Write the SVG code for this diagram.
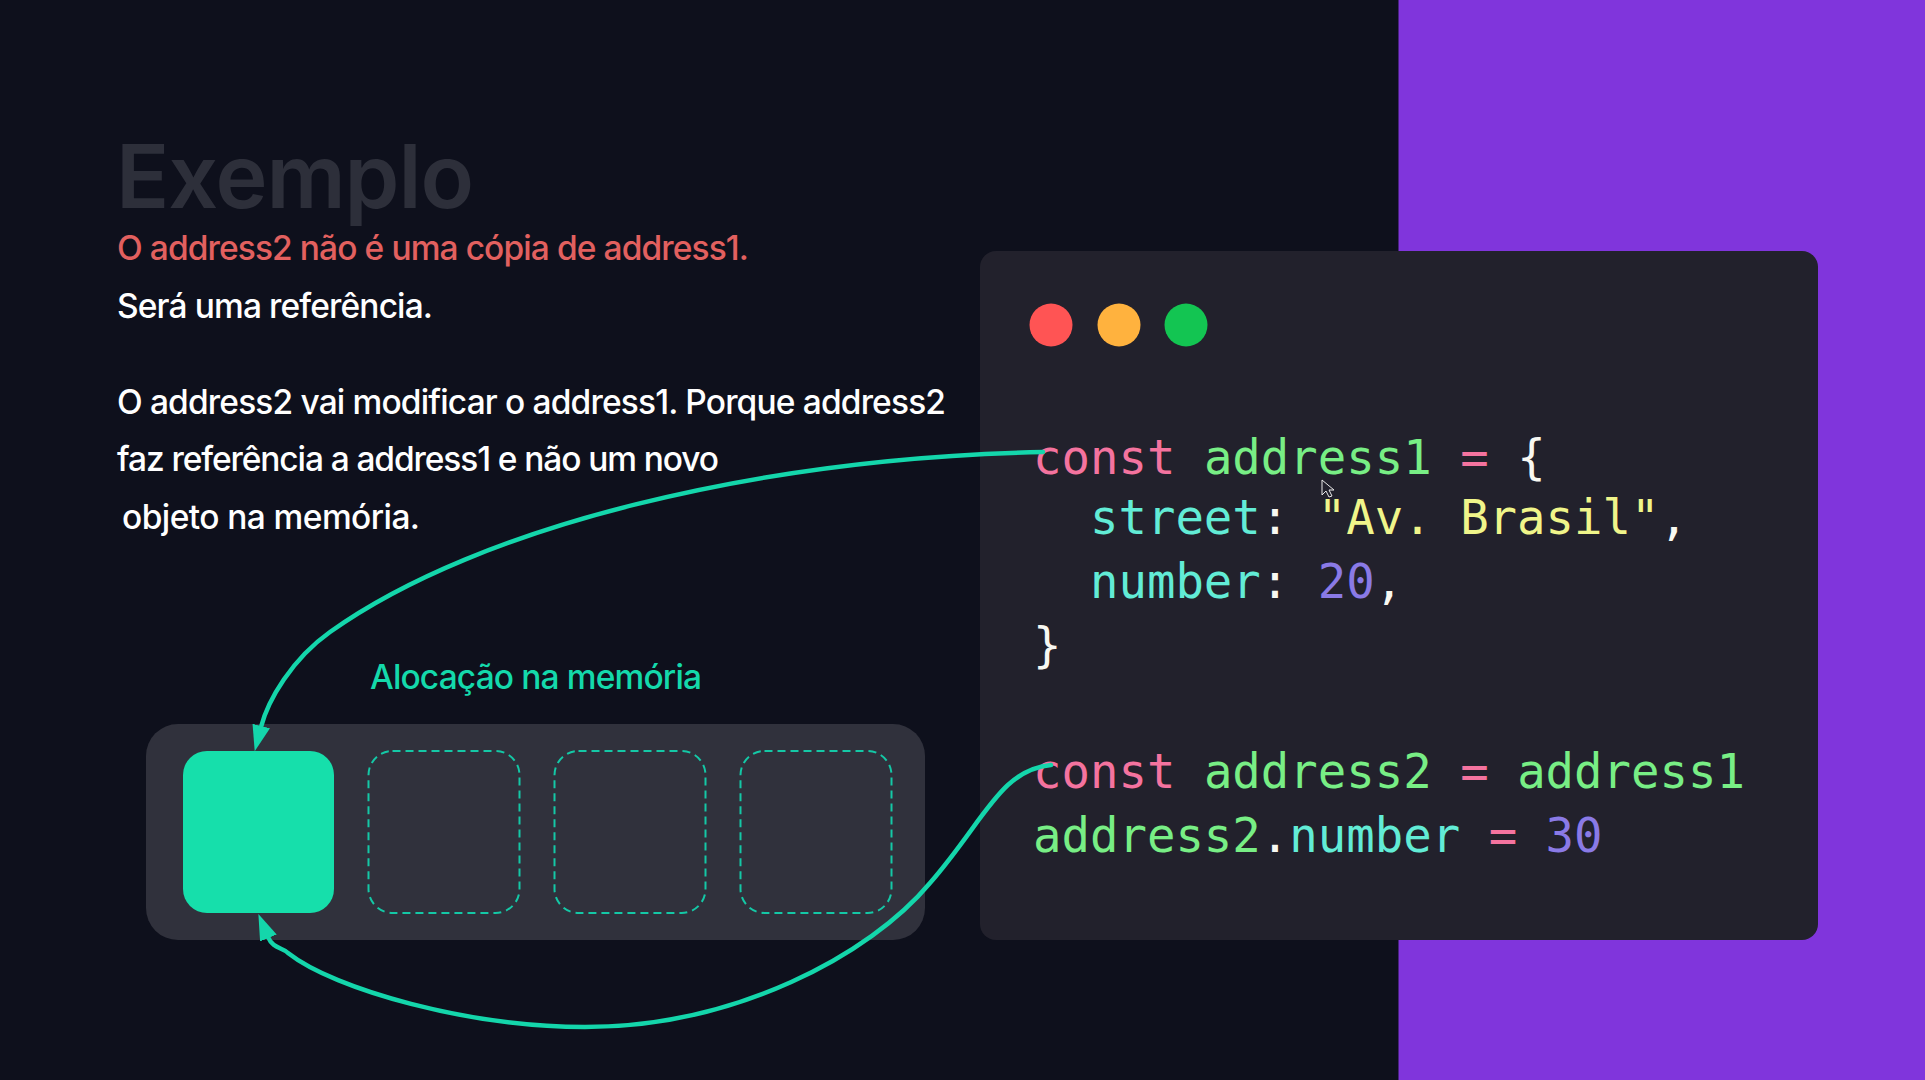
<svg xmlns="http://www.w3.org/2000/svg" width="1925" height="1080" viewBox="0 0 1925 1080">
<style>
.s{font-family:"Inter","Liberation Sans",sans-serif;font-size:33.500px;font-weight:500;fill:#fff}
.c{font-family:"DejaVu Sans Mono","Liberation Mono",monospace;font-size:47.300px;fill:#f8f8f2;white-space:pre}
.k{fill:#f4739f}.g{fill:#78ee85}.t{fill:#62ecd6}.y{fill:#f0f58a}.n{fill:#8a7ae6}
.d{fill:none;stroke:#14c8a6;stroke-width:2;stroke-dasharray:8 5}
.a{fill:none;stroke:#14d6ab;stroke-width:4.500;stroke-linecap:round;marker-end:url(#h)}
</style>
<defs><marker id="h" markerUnits="userSpaceOnUse" markerWidth="28" markerHeight="20" refX="1" refY="10" orient="auto"><path d="M0 1L26 10L0 19z" fill="#14d6ab"/></marker></defs>
<rect width="1925" height="1080" fill="#0e101c"/>
<rect x="1398.500" width="527" height="1080" fill="#8035dc"/>
<g id="title"><text x="116" y="208" font-family="Inter,'Liberation Sans',sans-serif" font-size="88" font-weight="600" fill="#2d2f3a" textLength="358">Exemplo</text></g>
<g id="intro">
<text class="s" x="117" y="260" style="fill:#e2605f" textLength="632">O address2 não é uma cópia de address1.</text>
<text class="s" x="117" y="318" textLength="316">Será uma referência.</text>
<text class="s" x="117" y="414" textLength="829">O address2 vai modificar o address1. Porque address2</text>
<text class="s" x="117" y="471" textLength="602">faz referência a address1 e não um novo</text>
<text class="s" x="122" y="529" textLength="298">objeto na memória.</text>
</g>
<g id="memory">
<rect x="146" y="724" width="779" height="216" rx="32" fill="#30313c"/>
<text class="s" x="370" y="689" style="fill:#14d9ab" textLength="332">Alocação na memória</text>
<rect id="slot1" x="183" y="751" width="151" height="162" rx="24" fill="#16dfab"/>
<rect id="slot2" class="d" x="368.500" y="751" width="151" height="162" rx="24"/>
<rect id="slot3" class="d" x="554.500" y="751" width="151" height="162" rx="24"/>
<rect id="slot4" class="d" x="740.500" y="751" width="151" height="162" rx="24"/>
</g>
<g id="code">
<rect x="980" y="251" width="838" height="689" rx="16" fill="#22212c"/>
<circle cx="1051" cy="325" r="21.500" fill="#ff5454"/>
<circle cx="1119" cy="325" r="21.500" fill="#ffb23e"/>
<circle cx="1186" cy="325" r="21.500" fill="#13c552"/>
<text class="c" x="1033" y="474"><tspan class="k">const</tspan> <tspan class="g">address1</tspan> <tspan class="k">=</tspan> {</text>
<text class="c" x="1033" y="534">  <tspan class="t">street</tspan>: <tspan class="y">"Av. Brasil"</tspan>,</text>
<text class="c" x="1033" y="598">  <tspan class="t">number</tspan>: <tspan class="n">20</tspan>,</text>
<text class="c" x="1033" y="662">}</text>
<text class="c" x="1033" y="788"><tspan class="k">const</tspan> <tspan class="g">address2</tspan> <tspan class="k">=</tspan> <tspan class="g">address1</tspan></text>
<text class="c" x="1033" y="852"><tspan class="g">address2</tspan>.<tspan class="t">number</tspan> <tspan class="k">=</tspan> <tspan class="n">30</tspan></text>
<path id="cursor" d="M1322 480V495L1326 491L1329 497L1332 496L1329 490H1334Z" fill="#22212c" stroke="#e8e8e8" stroke-width="1"/>
</g>
<g id="connectors">
<path class="a" d="M1043 452C760 458 480 525 330 632C292 659 268 700 261 727"/>
<path class="a" d="M1051 765C1000 770 985 820 930 883C870 955 735 1027 585 1027C470 1027 335 990 288 953C282 947 273 949 268 937"/>
</g>
</svg>
